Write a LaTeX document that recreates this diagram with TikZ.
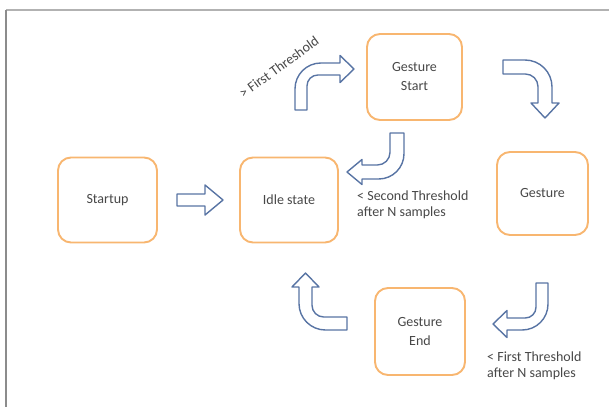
\documentclass[tikz,border=0pt]{standalone}
\usepackage{fontspec}
\setmainfont{Carlito}
\definecolor{boxorange}{RGB}{248,182,112}
\definecolor{arrowblue}{RGB}{88,116,164}
\definecolor{txtgrey}{RGB}{72,72,72}
\tikzset{
  state/.style={draw=boxorange, line width=1.9pt, rounded corners=13pt, text=txtgrey,
    align=center, font=\fontsize{14}{19}\selectfont, inner sep=0pt},
  blockarrow/.style={draw=arrowblue, line width=1.4pt, fill=white, line join=round},
  lbl/.style={text=txtgrey, align=left, font=\fontsize{14}{16.5}\selectfont, inner sep=0pt}
}
% canonical bent block arrow: shaft goes up from origin (outer side at x=0), then turns right
% #1 leg length, #2 shaft width, #3 distance to head base, #4 head length, #5 head width
\newcommand\bentarrow[5]{%
  \pgfmathsetmacro\La{#1}\pgfmathsetmacro\Wa{#2}\pgfmathsetmacro\Xa{#3}%
  \pgfmathsetmacro\Lh{#4}\pgfmathsetmacro\Ha{#5}%
  \pgfmathsetmacro\Ro{0.55*\La}\pgfmathsetmacro\Ri{0.9*\Wa}%
  \pgfmathsetmacro\Hb{(\Ha-\Wa)/2}%
  \draw[blockarrow] (0,0) -- (0,-\La+\Ro)
    .. controls (0,-\La+0.448*\Ro) and (0.448*\Ro,-\La) .. (\Ro,-\La)
    -- (\Xa,-\La) -- (\Xa,-\La-\Hb) -- (\Xa+\Lh,-\La+0.5*\Wa)
    -- (\Xa,-\La+\Wa+\Hb) -- (\Xa,-\La+\Wa) -- (\Wa+\Ri,-\La+\Wa)
    .. controls (\Wa+0.448*\Ri,-\La+\Wa) and (\Wa,-\La+\Wa+0.448*\Ri) .. (\Wa,-\La+\Wa+\Ri)
    -- (\Wa,0) -- cycle;}
\begin{document}
\begin{tikzpicture}[x=1pt,y=-1pt]
\useasboundingbox (0,0) rectangle (609,407);
\fill[white] (0,0) rectangle (609,407);
% frame
\coordinate (fa) at (6,10); \coordinate (fb) at (609,10); \coordinate (fc) at (6,407);
\draw[gray!60, line width=1.6pt] (fa) -- (fb);
\draw[gray!90, line width=1.8pt] (fa) -- (fc);
% states
\node[state, minimum width=99pt, minimum height=85pt] (startup) at (107.5,200) {Startup};
\node[state, minimum width=98pt, minimum height=85pt] (idle) at (289,200) {Idle state};
\node[state, minimum width=95pt, minimum height=86pt] (gstart) at (414.5,77) {Gesture\\Start};
\node[state, minimum width=91pt, minimum height=83pt] (gesture) at (542.5,193.5) {Gesture};
\node[state, minimum width=90pt, minimum height=87pt] (gend) at (420,331.5) {Gesture\\End};
% straight block arrow
\draw[blockarrow] (177,194) -- (205,194) -- (205,185) -- (223,200) -- (205,215) -- (205,206) -- (177,206) -- cycle;
% bent block arrows
\begin{scope}[shift={(295,110)}]\bentarrow{47}{12}{45}{14}{27}\end{scope}
\begin{scope}[shift={(503,60)},rotate=-90]\bentarrow{49}{14}{43}{15}{28}\end{scope}
\begin{scope}[shift={(404,133)},rotate=180]\bentarrow{46}{14}{42}{15}{25}\end{scope}
\begin{scope}[shift={(548,283)},rotate=180]\bentarrow{47}{12}{41}{14}{27}\end{scope}
\begin{scope}[shift={(347,330)},rotate=90]\bentarrow{48}{13}{43}{14}{27}\end{scope}
% labels
\node[lbl, rotate=36] (l1) at (279,67) {> First Threshold};
\node[lbl, anchor=west] (l2) at (357,205) {< Second Threshold\\after N samples};
\node[lbl, anchor=west] (l3) at (487,366) {< First Threshold\\after N samples};
\end{tikzpicture}
\end{document}
